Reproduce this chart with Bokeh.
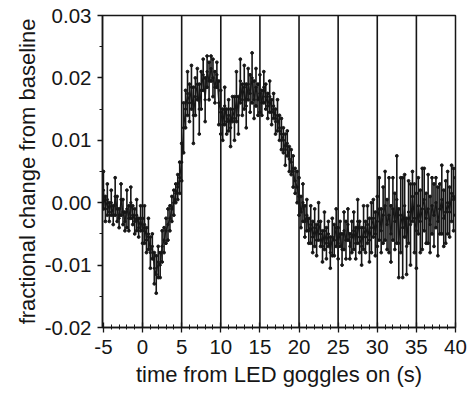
import numpy as np
from bokeh.plotting import figure
from bokeh.models import ColumnDataSource, Span, FixedTicker, Range1d
from bokeh.embed import file_html
from bokeh.resources import INLINE

# sampling of the time axis (s)
t_start = -5.0
t_step = 0.25

# mean fractional change, one value per sample (t = -5 ... 40 s)
mean_vals = [
    0.0020, -0.0010, 0.0005, -0.0015,
    0.0000, -0.0020, 0.0010, -0.0010,
    -0.0025, 0.0005, -0.0015, -0.0030,
    -0.0010, -0.0025, 0.0000, -0.0020,
    -0.0030, -0.0020, -0.0040, -0.0025,
    -0.0045, -0.0035, -0.0060, -0.0050,
    -0.0080, -0.0070, -0.0105, -0.0115,
    -0.0095, -0.0100, -0.0070, -0.0060,
    -0.0045, -0.0035, -0.0025, -0.0010,
    0.0000, 0.0015, 0.0025, 0.0040,
    0.0065, 0.0120, 0.0150, 0.0175,
    0.0160, 0.0185, 0.0140, 0.0170,
    0.0190, 0.0150, 0.0180, 0.0205,
    0.0165, 0.0210, 0.0195, 0.0215,
    0.0200, 0.0185, 0.0205, 0.0160,
    0.0145, 0.0125, 0.0155, 0.0130,
    0.0140, 0.0120, 0.0150, 0.0135,
    0.0170, 0.0140, 0.0195, 0.0165,
    0.0185, 0.0155, 0.0190, 0.0175,
    0.0200, 0.0165, 0.0185, 0.0165,
    0.0175, 0.0160, 0.0185, 0.0170,
    0.0155, 0.0170, 0.0145, 0.0155,
    0.0130, 0.0140, 0.0120, 0.0110,
    0.0100, 0.0085, 0.0095, 0.0070,
    0.0065, 0.0050, 0.0035, 0.0025,
    0.0010, -0.0015, 0.0000, -0.0030,
    -0.0020, -0.0045, -0.0035, -0.0055,
    -0.0040, -0.0060, -0.0030, -0.0050,
    -0.0070, -0.0045, -0.0065, -0.0050,
    -0.0080, -0.0055, -0.0060, -0.0040,
    -0.0065, -0.0050, -0.0075, -0.0045,
    -0.0060, -0.0035, -0.0070, -0.0055,
    -0.0045, -0.0065, -0.0030, -0.0055,
    -0.0070, -0.0040, -0.0055, -0.0035,
    -0.0060, -0.0040, -0.0025, -0.0050,
    -0.0030, -0.0010, -0.0045, -0.0020,
    -0.0005, -0.0035, -0.0020, -0.0050,
    -0.0010, -0.0030, 0.0005, -0.0065,
    -0.0020, -0.0040, -0.0005, -0.0070,
    -0.0015, -0.0035, 0.0010, -0.0025,
    -0.0045, -0.0005, -0.0030, -0.0010,
    0.0005, -0.0025, -0.0010, -0.0035,
    -0.0005, -0.0020, 0.0000, -0.0030,
    -0.0010, 0.0005, -0.0025, -0.0015,
    0.0000, -0.0015, 0.0015, 0.0005,
    0.0010,
]

# error-bar half widths
err_vals = [
    0.0030, 0.0020, 0.0025, 0.0015,
    0.0020, 0.0015, 0.0030, 0.0020,
    0.0015, 0.0025, 0.0020, 0.0015,
    0.0030, 0.0020, 0.0025, 0.0015,
    0.0020, 0.0025, 0.0015, 0.0020,
    0.0020, 0.0030, 0.0020, 0.0025,
    0.0025, 0.0020, 0.0025, 0.0030,
    0.0025, 0.0020, 0.0025, 0.0020,
    0.0020, 0.0025, 0.0020, 0.0020,
    0.0020, 0.0015, 0.0020, 0.0025,
    0.0030, 0.0040, 0.0030, 0.0035,
    0.0030, 0.0035, 0.0045, 0.0030,
    0.0025, 0.0040, 0.0030, 0.0025,
    0.0035, 0.0025, 0.0030, 0.0020,
    0.0030, 0.0025, 0.0020, 0.0035,
    0.0035, 0.0025, 0.0030, 0.0020,
    0.0025, 0.0030, 0.0020, 0.0035,
    0.0040, 0.0030, 0.0035, 0.0025,
    0.0035, 0.0035, 0.0025, 0.0030,
    0.0040, 0.0030, 0.0030, 0.0025,
    0.0030, 0.0020, 0.0025, 0.0020,
    0.0020, 0.0025, 0.0020, 0.0020,
    0.0020, 0.0025, 0.0020, 0.0025,
    0.0020, 0.0025, 0.0020, 0.0020,
    0.0020, 0.0025, 0.0020, 0.0025,
    0.0030, 0.0025, 0.0030, 0.0025,
    0.0025, 0.0020, 0.0030, 0.0025,
    0.0030, 0.0025, 0.0030, 0.0020,
    0.0025, 0.0030, 0.0025, 0.0020,
    0.0025, 0.0030, 0.0025, 0.0030,
    0.0025, 0.0020, 0.0025, 0.0030,
    0.0030, 0.0025, 0.0020, 0.0025,
    0.0030, 0.0025, 0.0035, 0.0025,
    0.0030, 0.0035, 0.0025, 0.0030,
    0.0035, 0.0040, 0.0030, 0.0035,
    0.0040, 0.0050, 0.0035, 0.0045,
    0.0055, 0.0040, 0.0060, 0.0045,
    0.0050, 0.0045, 0.0070, 0.0055,
    0.0060, 0.0080, 0.0050, 0.0045,
    0.0050, 0.0065, 0.0040, 0.0055,
    0.0060, 0.0045, 0.0050, 0.0065,
    0.0050, 0.0040, 0.0055, 0.0045,
    0.0045, 0.0050, 0.0040, 0.0055,
    0.0040, 0.0055, 0.0045, 0.0050,
    0.0050, 0.0040, 0.0045, 0.0050,
    0.0030,
]

stim_lines = [0, 5, 10, 15, 20, 25, 30, 35]
x_ticks = [-5, 0, 5, 10, 15, 20, 25, 30, 35, 40]
y_ticks = [-0.02, -0.01, 0.0, 0.01, 0.02, 0.03]
y_minor = [-0.015, -0.005, 0.005, 0.015, 0.025]
x_minor = list(range(-5, 41))

t = t_start + t_step * np.arange(len(mean_vals))
m = np.array(mean_vals)
e = np.array(err_vals)
src = ColumnDataSource(dict(t=t, m=m, lo=m - e, hi=m + e))

FONT = "Liberation Sans"
INK = "#161616"

p = figure(width=474, height=399, output_backend="svg", toolbar_location=None,
           x_range=Range1d(-5.12, 40.0), y_range=Range1d(-0.02, 0.03),
           min_border_left=102, min_border_right=19, min_border_top=15,
           min_border_bottom=72)
p.background_fill_color = "white"
p.border_fill_color = "white"
p.outline_line_color = INK
p.outline_line_width = 1.5
p.xgrid.visible = False
p.ygrid.visible = False

for s in stim_lines:
    p.add_layout(Span(location=s, dimension="height", line_color=INK, line_width=1.6))

p.segment(x0="t", y0="lo", x1="t", y1="hi", source=src, line_color=INK, line_width=1.6)
p.line(x="t", y="m", source=src, line_color=INK, line_width=1.2)
p.scatter(x="t", y="hi", source=src, size=2.8, color=INK)
p.scatter(x="t", y="lo", source=src, size=2.8, color=INK)
p.scatter(x="t", y="m", source=src, size=2.4, color=INK)

p.xaxis.ticker = FixedTicker(ticks=x_ticks, minor_ticks=x_minor)
p.yaxis.ticker = FixedTicker(ticks=y_ticks, minor_ticks=y_minor)
p.yaxis.major_label_overrides = {v: f"{v:.2f}" for v in y_ticks}
p.yaxis.major_label_overrides[-0.0] = "0.00"
p.xaxis.major_label_overrides = {v: str(v) for v in x_ticks}

p.xaxis.axis_label = "time from LED goggles on (s)"
p.yaxis.axis_label = "fractional change from baseline"

for ax in (p.xaxis[0], p.yaxis[0]):
    ax.axis_line_color = INK
    ax.axis_line_width = 1.5
    ax.major_tick_line_color = INK
    ax.minor_tick_line_color = INK
    ax.major_tick_line_width = 1.3
    ax.minor_tick_line_width = 1.0
    ax.major_label_text_font = FONT
    ax.major_label_text_font_size = "20.5px"
    ax.major_label_text_color = INK
    ax.axis_label_text_font = FONT
    ax.axis_label_text_font_size = "22px"
    ax.axis_label_text_font_style = "normal"
    ax.axis_label_text_color = INK

p.xaxis.major_tick_in = 5
p.xaxis.major_tick_out = 5
p.xaxis.minor_tick_in = 3
p.xaxis.minor_tick_out = 2
p.xaxis.major_label_standoff = 7
p.xaxis.axis_label_standoff = 5
p.yaxis.major_tick_in = 0
p.yaxis.major_tick_out = 5
p.yaxis.minor_tick_in = 0
p.yaxis.minor_tick_out = 3
p.yaxis.major_label_standoff = 6
p.yaxis.axis_label_standoff = 2

open("out.html", "w").write(file_html(p, INLINE))
